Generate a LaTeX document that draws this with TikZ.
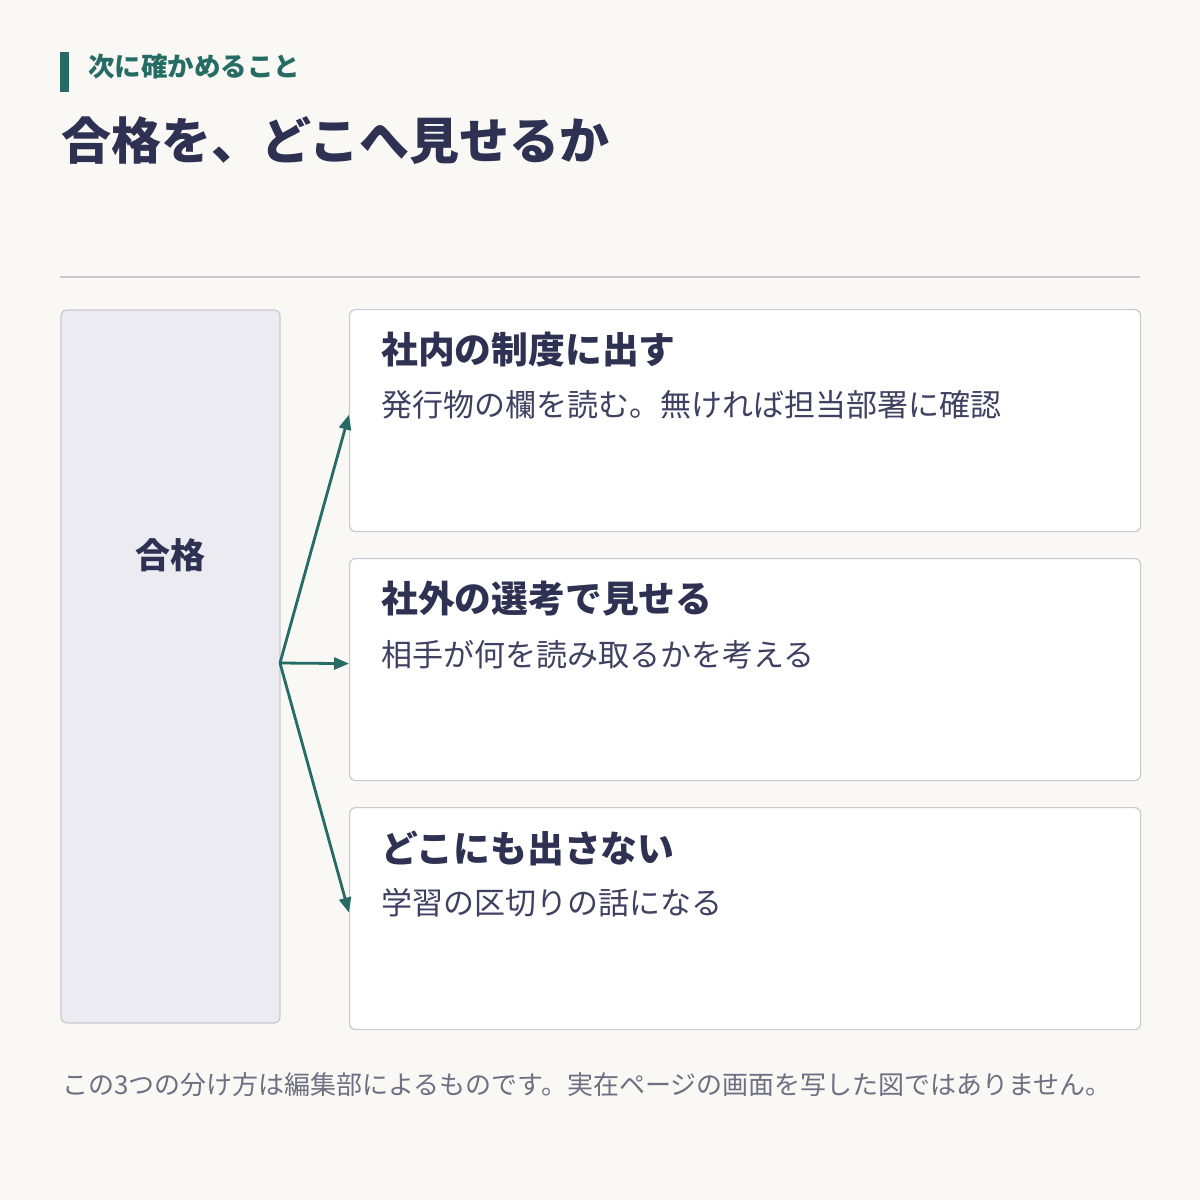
\documentclass[tikz,border=0pt]{standalone}
\usepackage{fontspec}
\setmainfont{Noto Sans CJK JP}
\usetikzlibrary{arrows.meta,positioning}
\definecolor{bgc}{HTML}{F9F8F4}
\definecolor{teal}{HTML}{266B64}
\definecolor{navy}{HTML}{2E3152}
\definecolor{descc}{HTML}{3F4160}
\definecolor{notec}{HTML}{6E7082}
\definecolor{framec}{HTML}{C9C9D2}
\definecolor{rootc}{HTML}{ECEBF2}
\tikzset{
card/.style={
	  draw=framec, line width=1.2pt, fill=white, rounded corners=6pt},
cardtitle/.style={anchor=west, inner sep=0pt, text=navy,
	font=\fontsize{36.8}{42}\selectfont\bfseries},
carddesc/.style={anchor=west, inner sep=0pt, text=descc,
	font=\fontsize{31}{36}\selectfont},
branch/.style={draw=teal, line width=2.8pt,
	-{Triangle[length=15pt,width=12pt]}}
}

\begin{document}
\begin{tikzpicture}[x=1pt, y=-1pt]
	\fill[bgc] (0,0) rectangle (1200,1200);
	\useasboundingbox (0,0) rectangle (1200,1200);
	% heading
	\fill[teal] (60,52) rectangle (69,92);
	\node[anchor=west, inner sep=0pt, text=teal,
		font=\fontsize{26.5}{30}\selectfont\bfseries] (kicker) at (88,66) {次に確かめること};
	\node[anchor=west, inner sep=0pt, text=navy,
		font=\fontsize{50}{56}\selectfont\bfseries] (head) at (61,141) {合格を、どこへ見せるか};
	\draw[framec, line width=1.5pt] (60,277) -- (1140,277);
	% left box
	\draw[card, fill=rootc] (61,310) rectangle (280,1023);
	\node[text=navy, font=\fontsize{35}{40}\selectfont\bfseries] (pass) at (170.5,555) {合格};
	\coordinate (fork) at (280,663);
	% right boxes
	\node[card, minimum width=791pt, minimum height=222pt, anchor=north west] (b1) at (349,309) {};
	\node[card, minimum width=791pt, minimum height=222pt, anchor=north west] (b2) at (349,558) {};
	\node[card, minimum width=791pt, minimum height=222pt, anchor=north west] (b3) at (349,807) {};
	\node[cardtitle] (t1) at (381,350) {社内の制度に出す};
	\node[carddesc] (d1) at (381,405) {発行物の欄を読む。無ければ担当部署に確認};
	\node[cardtitle] (t2) at (381,599) {社外の選考で見せる};
	\node[carddesc] (d2) at (381,655) {相手が何を読み取るかを考える};
	\node[cardtitle] (t3) at (381,848) {どこにも出さない};
	\node[carddesc] (d3) at (381,903) {学習の区切りの話になる};
	% arrows
	\draw[branch] (fork) -- ([yshift=6pt]b1.west);
	\draw[branch] (fork) -- ([yshift=6pt]b2.west);
	\draw[branch] (fork) -- ([yshift=6pt]b3.west);
	% note
	\node[anchor=west, inner sep=0pt, text=notec,
		font=\fontsize{26}{30}\selectfont] (note) at (62,1085)
		{この3つの分け方は編集部によるものです。実在ページの画面を写した図ではありません。};
\end{tikzpicture}
\end{document}
